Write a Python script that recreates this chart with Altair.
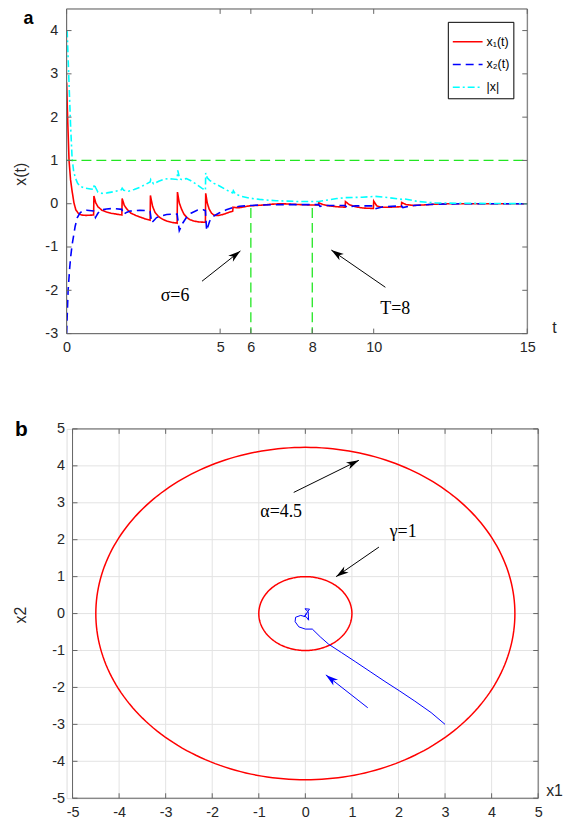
import math
import numpy as np
import pandas as pd
import altair as alt

FONT = "Liberation Sans"
SERIF = "Liberation Serif"
TXT = "#262626"
FRAME = "#666666"
GREEN = "#22e622"
GRID = "#e3e3e3"
TICK_FS = 14.5

# ---------------- panel a: values ----------------
x1_t = [0.00, 0.04, 0.08, 0.13, 0.18, 0.24, 0.30, 0.38, 0.48, 0.62, 0.88,
        0.89, 0.95, 1.02, 1.15, 1.30, 1.45, 1.62, 1.80,
        1.81, 1.88, 1.97, 2.10, 2.25, 2.40, 2.56, 2.72,
        2.73, 2.80, 2.88, 3.00, 3.13, 3.26, 3.42, 3.60,
        3.61, 3.67, 3.74, 3.82, 3.92, 4.02, 4.15, 4.30, 4.52,
        4.53, 4.58, 4.64, 4.72, 4.82, 4.95, 5.09, 5.25, 5.41,
        5.42, 5.52, 5.63, 5.80, 5.95, 6.20, 6.40, 6.70, 7.00, 7.30, 7.60, 8.00, 8.20,
        8.21, 8.35, 8.55, 8.80, 9.07,
        9.08, 9.20, 9.40, 9.65, 9.99,
        10.00, 10.10, 10.25, 10.50, 10.90,
        10.91, 11.05, 11.30, 11.60, 12.00, 12.50, 15.00]
x1_v = [2.80, 1.85, 1.00, 0.55, 0.29, 0.02, -0.14, -0.22, -0.26, -0.27, -0.26,
        0.18, 0.02, -0.07, -0.15, -0.19, -0.22, -0.24, -0.26,
        0.12, -0.04, -0.13, -0.22, -0.27, -0.31, -0.35, -0.38,
        0.19, -0.06, -0.20, -0.30, -0.36, -0.40, -0.43, -0.45,
        0.27, 0.02, -0.12, -0.24, -0.32, -0.37, -0.40, -0.42, -0.43,
        0.24, 0.02, -0.12, -0.22, -0.27, -0.27, -0.25, -0.21, -0.17,
        -0.08, -0.09, -0.09, -0.07, -0.05, -0.04, -0.03, -0.01, 0.00, -0.01, -0.02, -0.03, -0.03,
        0.02, -0.02, -0.05, -0.07, -0.08,
        0.05, -0.02, -0.07, -0.10, -0.11,
        0.06, -0.05, -0.08, -0.08, -0.07,
        0.03, -0.02, -0.04, -0.03, -0.01, 0.00, 0.00]

x2_t = [0.00, 0.05, 0.10, 0.13, 0.18, 0.22, 0.28, 0.35, 0.43, 0.51, 0.66, 0.88,
        0.94, 1.02, 1.10, 1.30, 1.50, 1.80,
        1.85, 1.95, 2.07, 2.39, 2.60, 2.72,
        2.77, 2.85, 2.93, 3.10, 3.26, 3.45, 3.60,
        3.67, 3.78, 3.90, 4.05, 4.25, 4.45, 4.52,
        4.56, 4.66, 4.80, 4.98, 5.20, 5.41, 5.63, 6.00, 6.30, 7.00, 8.00, 8.21,
        8.25, 8.50, 9.07, 9.12, 9.40, 9.99, 10.04, 10.30, 10.90, 10.95, 11.30, 12.00, 13.00, 15.00]
x2_v = [-3.00, -2.00, -1.50, -1.25, -0.95, -0.78, -0.52, -0.32, -0.22, -0.17, -0.15, -0.17,
        -0.32, -0.22, -0.15, -0.12, -0.11, -0.13,
        -0.25, -0.20, -0.17, -0.15, -0.16, -0.18,
        -0.44, -0.38, -0.32, -0.28, -0.25, -0.24, -0.24,
        -0.62, -0.45, -0.32, -0.22, -0.15, -0.14, -0.16,
        -0.62, -0.40, -0.28, -0.21, -0.14, -0.09, -0.06, -0.04, -0.03, -0.02, -0.02, -0.02,
        -0.06, -0.04, -0.04, -0.08, -0.05, -0.05, -0.12, -0.07, -0.05, -0.09, -0.04, -0.01, 0.00, 0.00]

nx_t = [0.00, 0.02, 0.07, 0.13, 0.18, 0.23, 0.29, 0.36, 0.45, 0.60, 0.78, 0.88,
        0.90, 0.94, 1.02, 1.15, 1.32, 1.55, 1.78,
        1.81, 1.86, 2.02, 2.20, 2.39, 2.55, 2.72,
        2.74, 2.83, 3.00, 3.15, 3.30, 3.45, 3.60,
        3.62, 3.68, 3.74, 3.90, 4.05, 4.23, 4.40, 4.52,
        4.53, 4.58, 4.66, 4.80, 4.98, 5.20, 5.41,
        5.43, 5.50, 5.70, 5.95, 6.28, 6.60, 6.82, 7.20, 7.60, 8.20, 8.54, 8.80, 9.08, 9.62, 10.05, 10.49, 10.92,
        11.00, 11.46, 12.00, 12.80, 15.00]
nx_v = [4.00, 3.97, 2.97, 1.82, 1.05, 0.75, 0.59, 0.47, 0.40, 0.36, 0.34, 0.33,
        0.45, 0.38, 0.27, 0.24, 0.25, 0.28, 0.32,
        0.36, 0.31, 0.29, 0.33, 0.38, 0.44, 0.50,
        0.56, 0.46, 0.52, 0.56, 0.58, 0.57, 0.56,
        0.77, 0.58, 0.56, 0.58, 0.53, 0.45, 0.36, 0.31,
        0.71, 0.60, 0.54, 0.47, 0.41, 0.32, 0.25,
        0.30, 0.22, 0.17, 0.13, 0.10, 0.08, 0.07, 0.06, 0.05, 0.05, 0.09, 0.12, 0.14, 0.15, 0.17, 0.14, 0.10,
        0.11, 0.05, 0.02, 0.01, 0.00]

series_names = ["x\u2081(t)", "x\u2082(t)", "|x|"]
series_colors = ["#ff0000", "#0000ff", "#00ffff"]
series_dash = [[1, 0], [8, 5], [7, 3, 2, 3]]

a_xticks = [0, 5, 6, 8, 10, 15]
a_yticks = [-3, -2, -1, 0, 1, 2, 3, 4]
a_xdom = [0, 15]
a_ydom = [-3, 4.5]
bound_level = 1.0
marker_times = [6, 8]
marker_top = -0.1

a_text = ["\u03c3=6", "T=8"]
a_text_t = [3.53, 10.70]
a_text_v = [-2.14, -2.43]
a_arrow_tail = [(4.41, -1.79), (10.38, -1.93)]
a_arrow_head = [(5.66, -1.09), (8.62, -1.07)]

# ---------------- panel b ----------------
traj_x1 = [3.00, 2.70, 2.35, 2.03, 1.71, 1.39, 1.07, 0.78, 0.50, 0.32, 0.15, 0.00,
           -0.14, -0.22, -0.21, -0.10, 0.02, 0.07, 0.06, -0.01, 0.09, -0.03, 0.02, 0.00]
traj_x2 = [-3.00, -2.68, -2.37, -2.10, -1.84, -1.57, -1.30, -1.06, -0.83, -0.63, -0.42, -0.42,
           -0.36, -0.22, -0.10, -0.05, -0.09, -0.18, 0.05, 0.13, 0.12, -0.09, -0.03, 0.00]
radii = [4.5, 1.0]
b_ticks = [-5, -4, -3, -2, -1, 0, 1, 2, 3, 4, 5]

b_text = ["\u03b1=4.5", "\u03b3=1"]
b_text_x = [-0.52, 2.10]
b_text_y = [2.76, 2.22]
b_arrow_tail = [(-0.25, 3.28), (1.58, 1.80)]
b_arrow_head = [(1.15, 4.15), (0.66, 1.00)]
blue_arrow_tail = (1.34, -2.55)
blue_arrow_head = (0.44, -1.66)

# ---------------- geometry ----------------
TOP_W, TOP_H = 464, 327
BOT_W, BOT_H = 475, 372
B_SHIFT = 6  # px between the bottom plot-area origin and its frame
b_xdom = [-5 - 10 * B_SHIFT / (BOT_W - B_SHIFT), 5]
b_ydom = [-5, 5]

HEAD = "M0,0L0.6,2L0,1.45L-0.6,2Z"


def head_angle(tail, head, sx, sy):
    dxp = (head[0] - tail[0]) * sx
    dyp = -(head[1] - tail[1]) * sy
    return math.degrees(math.atan2(dxp, -dyp)) % 360


def axis(values, title, **kw):
    base = dict(values=values, domain=False, ticks=False, grid=False,
                labelExpr="datum.value + ''",
                labelFlush=False, labelOverlap=False,
                labelFont=FONT, labelFontSize=TICK_FS, labelColor=TXT,
                title=title, titleAlign="center", titleBaseline="middle",
                titleFont=FONT, titleFontSize=16, titleFontWeight="normal", titleColor=TXT)
    base.update(kw)
    return alt.Axis(**base)


# ================= panel a =================
AX_AX = axis(a_xticks, "t", labelPadding=7, titleX=491, titleY=-6)
AX_AY = axis(a_yticks, "x(t)", labelPadding=9, titleX=-46, titleY=166, titleAngle=270)
SC_AX = alt.Scale(domain=a_xdom, nice=False, zero=False)
SC_AY = alt.Scale(domain=a_ydom, nice=False, zero=False)


def XA(f="t"):
    return alt.X(f"{f}:Q", scale=SC_AX, axis=AX_AX)


def YA(f="v"):
    return alt.Y(f"{f}:Q", scale=SC_AY, axis=AX_AY)


rows = []
for name, ts, vs in zip(series_names, [x1_t, x2_t, nx_t], [x1_v, x2_v, nx_v]):
    for i, (t, v) in enumerate(zip(ts, vs)):
        rows.append({"t": t, "v": v, "s": name, "i": i})
lines_df = pd.DataFrame(rows)

legend = alt.Legend(orient="none", legendX=384, legendY=13, title=None,
                    fillColor="white", strokeColor="black", padding=4,
                    labelFont=FONT, labelFontSize=12.5, labelColor="black",
                    symbolType="stroke", symbolSize=900, symbolStrokeWidth=1.5,
                    rowPadding=-1, labelOffset=3)

curves = alt.Chart(lines_df).mark_line(strokeWidth=1.6, clip=True).encode(
    x=XA(), y=YA(),
    color=alt.Color("s:N", scale=alt.Scale(domain=series_names, range=series_colors), legend=legend),
    strokeDash=alt.StrokeDash("s:N", scale=alt.Scale(domain=series_names, range=series_dash), legend=legend),
    order=alt.Order("i:Q"),
)

hline = alt.Chart(pd.DataFrame({"t": [a_xdom[0]], "t2": [a_xdom[1]], "v": [bound_level]})).mark_rule(
    color=GREEN, strokeWidth=1.3, strokeDash=[10, 5]).encode(x=XA(), x2="t2:Q", y=YA())
vlines = alt.Chart(pd.DataFrame({"t": marker_times, "v": [marker_top] * 2, "v2": [a_ydom[0]] * 2})).mark_rule(
    color=GREEN, strokeWidth=1.3, strokeDash=[10, 5]).encode(x=XA(), y=YA(), y2="v2:Q")

frame_a = alt.Chart(pd.DataFrame({
    "t": [a_xdom[0], a_xdom[1], a_xdom[0], a_xdom[0]],
    "t2": [a_xdom[0], a_xdom[1], a_xdom[1], a_xdom[1]],
    "v": [a_ydom[0], a_ydom[0], a_ydom[0], a_ydom[1]],
    "v2": [a_ydom[1], a_ydom[1], a_ydom[0], a_ydom[1]],
})).mark_rule(color=FRAME, strokeWidth=1).encode(x=XA(), x2="t2:Q", y=YA(), y2="v2:Q")

xt_df = pd.DataFrame({"t": a_xticks})
yt_df = pd.DataFrame({"v": a_yticks})
ticks_a = alt.layer(
    alt.Chart(xt_df).mark_rule(color=FRAME).encode(x=XA(), y=alt.value(TOP_H), y2=alt.value(TOP_H - 5)),
    alt.Chart(xt_df).mark_rule(color=FRAME).encode(x=XA(), y=alt.value(0), y2=alt.value(5)),
    alt.Chart(yt_df).mark_rule(color=FRAME).encode(y=YA(), x=alt.value(0), x2=alt.value(5)),
    alt.Chart(yt_df).mark_rule(color=FRAME).encode(y=YA(), x=alt.value(TOP_W), x2=alt.value(TOP_W - 5)),
)

sxa, sya = TOP_W / (a_xdom[1] - a_xdom[0]), TOP_H / (a_ydom[1] - a_ydom[0])
arr_rows, head_rows = [], []
for k, (tl, hd) in enumerate(zip(a_arrow_tail, a_arrow_head)):
    arr_rows += [{"t": tl[0], "v": tl[1], "id": k, "o": 0}, {"t": hd[0], "v": hd[1], "id": k, "o": 1}]
    head_rows.append({"t": hd[0], "v": hd[1], "ang": head_angle(tl, hd, sxa, sya)})
arrows_a = alt.Chart(pd.DataFrame(arr_rows)).mark_line(color="black", strokeWidth=1).encode(
    x=XA(), y=YA(), detail="id:N", order="o:Q")
heads_a = alt.Chart(pd.DataFrame(head_rows)).mark_point(
    shape=HEAD, filled=True, color="black", size=160, opacity=1, strokeWidth=0).encode(
    x=XA(), y=YA(), angle=alt.Angle("ang:Q", scale=None))
text_a = alt.Chart(pd.DataFrame({"t": a_text_t, "v": a_text_v, "s": a_text})).mark_text(
    font=SERIF, fontSize=18, color="black", align="center", baseline="middle").encode(
    x=XA(), y=YA(), text="s:N")
letter_a = alt.Chart(pd.DataFrame({"t": [-1.40], "v": [4.144], "s": ["a"]})).mark_text(
    font=FONT, fontSize=18, fontWeight="bold", color="black", align="left", baseline="alphabetic").encode(
    x=XA(), y=YA(), text="s:N")

top = alt.layer(curves, hline, vlines, frame_a, ticks_a, arrows_a, heads_a, text_a, letter_a).properties(
    width=TOP_W, height=TOP_H)

# ================= panel b =================
AX_BX = axis(b_ticks, "x1", labelPadding=7, titleX=491, titleY=-8)
AX_BY = axis(b_ticks, "x2", labelPadding=8, offset=-B_SHIFT, titleX=-52, titleY=187, titleAngle=270)
SC_BX = alt.Scale(domain=b_xdom, nice=False, zero=False)
SC_BY = alt.Scale(domain=b_ydom, nice=False, zero=False)


def XB(f="p"):
    return alt.X(f"{f}:Q", scale=SC_BX, axis=AX_BX)


def YB(f="q"):
    return alt.Y(f"{f}:Q", scale=SC_BY, axis=AX_BY)


gx = pd.DataFrame({"p": b_ticks, "q": [-5] * len(b_ticks), "q2": [5] * len(b_ticks)})
gy = pd.DataFrame({"q": b_ticks, "p": [-5] * len(b_ticks), "p2": [5] * len(b_ticks)})
grid_b = alt.layer(
    alt.Chart(gx).mark_rule(color=GRID, strokeWidth=1).encode(x=XB(), y=YB(), y2="q2:Q"),
    alt.Chart(gy).mark_rule(color=GRID, strokeWidth=1).encode(x=XB(), x2="p2:Q", y=YB()),
)

frame_b = alt.Chart(pd.DataFrame({
    "p": [-5, 5, -5, -5], "p2": [-5, 5, 5, 5],
    "q": [-5, -5, -5, 5], "q2": [5, 5, -5, 5],
})).mark_rule(color=FRAME, strokeWidth=1).encode(x=XB(), x2="p2:Q", y=YB(), y2="q2:Q")

bt = pd.DataFrame({"p": b_ticks, "q": b_ticks})
ticks_b = alt.layer(
    alt.Chart(bt).mark_rule(color=FRAME).encode(x=XB(), y=alt.value(BOT_H), y2=alt.value(BOT_H - 5)),
    alt.Chart(bt).mark_rule(color=FRAME).encode(x=XB(), y=alt.value(0), y2=alt.value(5)),
    alt.Chart(bt).mark_rule(color=FRAME).encode(y=YB(), x=alt.value(B_SHIFT), x2=alt.value(B_SHIFT + 5)),
    alt.Chart(bt).mark_rule(color=FRAME).encode(y=YB(), x=alt.value(BOT_W), x2=alt.value(BOT_W - 5)),
)

theta = np.linspace(0, 2 * np.pi, 241)
circ_rows = []
for k, r in enumerate(radii):
    for i, th in enumerate(theta):
        circ_rows.append({"p": r * np.cos(th), "q": r * np.sin(th), "id": k, "i": i})
circles = alt.Chart(pd.DataFrame(circ_rows)).mark_line(color="#ff0000", strokeWidth=1.5).encode(
    x=XB(), y=YB(), detail="id:N", order="i:Q")

traj = alt.Chart(pd.DataFrame({"p": traj_x1, "q": traj_x2, "i": range(len(traj_x1))})).mark_line(
    color="#0000ff", strokeWidth=1).encode(x=XB(), y=YB(), order="i:Q")

sxb = (BOT_W - B_SHIFT) / 10
syb = BOT_H / 10
barr, bhead = [], []
for k, (tl, hd) in enumerate(zip(b_arrow_tail, b_arrow_head)):
    barr += [{"p": tl[0], "q": tl[1], "id": k, "o": 0}, {"p": hd[0], "q": hd[1], "id": k, "o": 1}]
    bhead.append({"p": hd[0], "q": hd[1], "ang": head_angle(tl, hd, sxb, syb), "c": "black"})
arrows_b = alt.Chart(pd.DataFrame(barr)).mark_line(color="black", strokeWidth=1).encode(
    x=XB(), y=YB(), detail="id:N", order="o:Q")
blue_arr = alt.Chart(pd.DataFrame({
    "p": [blue_arrow_tail[0], blue_arrow_head[0]], "q": [blue_arrow_tail[1], blue_arrow_head[1]], "o": [0, 1]
})).mark_line(color="#0000ff", strokeWidth=1).encode(x=XB(), y=YB(), order="o:Q")
bhead.append({"p": blue_arrow_head[0], "q": blue_arrow_head[1],
              "ang": head_angle(blue_arrow_tail, blue_arrow_head, sxb, syb), "c": "#0000ff"})
heads_b = alt.Chart(pd.DataFrame(bhead)).mark_point(
    shape=HEAD, filled=True, size=160, opacity=1, strokeWidth=0).encode(
    x=XB(), y=YB(), angle=alt.Angle("ang:Q", scale=None), color=alt.Color("c:N", scale=None))
text_b = alt.Chart(pd.DataFrame({"p": b_text_x, "q": b_text_y, "s": b_text})).mark_text(
    font=SERIF, fontSize=18, color="black", align="center", baseline="middle").encode(
    x=XB(), y=YB(), text="s:N")
letter_b = alt.Chart(pd.DataFrame({"p": [-6.237], "q": [4.81], "s": ["b"]})).mark_text(
    font=FONT, fontSize=21, fontWeight="bold", color="black", align="left", baseline="alphabetic").encode(
    x=XB(), y=YB(), text="s:N")

bottom = alt.layer(grid_b, frame_b, ticks_b, circles, traj, arrows_b, blue_arr, heads_b, text_b, letter_b).properties(
    width=BOT_W, height=BOT_H)

chart = alt.vconcat(top, bottom, spacing=64).properties(
    padding={"left": 4, "top": -3, "right": 0, "bottom": 0}
).configure_view(stroke=None).configure(background="white")

chart.save("out.html", embed_options={"renderer": "svg", "actions": False})
